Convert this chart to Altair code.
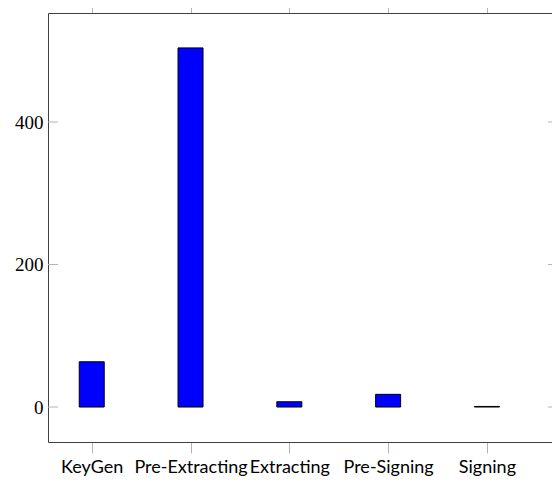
import altair as alt
import pandas as pd

categories = ["KeyGen", "Pre-Extracting", "Extracting", "Pre-Signing", "Signing"]
times = [63.5, 504, 7.4, 17.8, 0.8]
positions = [0, 1, 2, 3, 4]
ytick_values = [0, 200, 400]

df = pd.DataFrame({"idx": positions, "cat": categories, "time": times})
ticks_df = pd.DataFrame({"v": ytick_values})

label_array = "[" + ",".join("'" + c + "'" for c in categories) + "]"

xscale = alt.Scale(domain=[-0.392, 4.608], nice=False, zero=False)
yscale = alt.Scale(domain=[-49.1, 553], nice=False, zero=False)

AXIS_DARK = "#404040"
TICK_GREY = "#b4b4b4"

bars = alt.Chart(df).mark_bar(
    color="#0000ff", stroke="black", strokeWidth=1, size=25
).encode(
    x=alt.X(
        "idx:Q",
        scale=xscale,
        axis=alt.Axis(
            orient="bottom",
            values=positions,
            labelExpr=label_array + "[datum.value]",
            tickSize=11,
            tickColor=TICK_GREY,
            tickWidth=1,
            domainColor=AXIS_DARK,
            domainWidth=1,
            grid=False,
            title=None,
            labelFont="Lato",
            labelFontSize=18,
            labelColor="black",
            labelPadding=5,
            labelFlush=False,
            labelOverlap=False,
        ),
    ),
    y=alt.Y(
        "time:Q",
        scale=yscale,
        axis=alt.Axis(
            orient="left",
            values=ytick_values,
            tickSize=0,
            domainColor=AXIS_DARK,
            domainWidth=1,
            grid=False,
            title=None,
            labelFont="Liberation Serif",
            labelFontSize=19,
            labelColor="black",
            labelPadding=5,
            labelFlush=False,
        ),
    ),
)

top_axis = alt.Chart(df).mark_point(opacity=0).encode(
    x=alt.X(
        "idx:Q",
        scale=xscale,
        axis=alt.Axis(
            orient="top",
            values=positions,
            labels=False,
            tickSize=11,
            tickColor=TICK_GREY,
            tickWidth=1,
            domainColor=AXIS_DARK,
            domainWidth=1,
            grid=False,
            title=None,
        ),
    ),
    y=alt.Y("time:Q", scale=yscale, axis=None),
)

left_ticks = alt.Chart(ticks_df).mark_rule(color=TICK_GREY, strokeWidth=1).encode(
    y=alt.Y("v:Q", scale=yscale, axis=None),
    x=alt.value(0),
    x2=alt.value(10),
)

right_ticks = alt.Chart(ticks_df).mark_rule(color=TICK_GREY, strokeWidth=1).encode(
    y=alt.Y("v:Q", scale=yscale, axis=None),
    x=alt.value(500),
    x2=alt.value(504),
)

chart = alt.layer(bars, top_axis, left_ticks, right_ticks).resolve_axis(
    x="independent", y="independent"
).properties(
    width=504,
    height=429,
    autosize=alt.AutoSizeParams(type="none"),
    padding={"left": 40, "top": 5, "right": 0, "bottom": 34},
).configure_view(stroke=None)

chart.save("out.html", embed_options={"renderer": "svg", "actions": False})
